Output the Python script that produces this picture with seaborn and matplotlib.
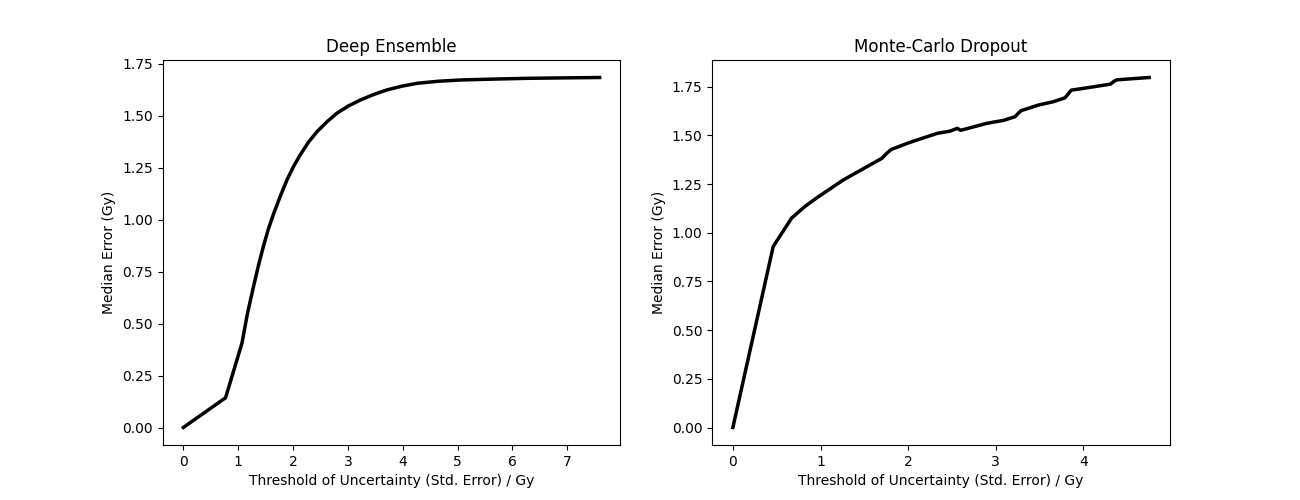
import matplotlib
matplotlib.use("Agg")
import matplotlib.pyplot as plt
import seaborn as sns
import numpy as np

# Deep Ensemble curve (threshold, median error)
de_threshold = [0.0, 0.77, 1.07, 1.17, 1.28, 1.37, 1.46, 1.55, 1.65, 1.77, 1.89, 2.01, 2.13,
                2.28, 2.44, 2.62, 2.80, 3.01, 3.23, 3.47, 3.71, 3.98, 4.26, 4.65, 5.05,
                5.60, 6.26, 6.90, 7.59]
de_error = [0.0, 0.143, 0.407, 0.55, 0.679, 0.78, 0.872, 0.955, 1.032, 1.115, 1.192, 1.257, 1.312,
            1.373, 1.425, 1.472, 1.513, 1.548, 1.577, 1.603, 1.625, 1.643, 1.657, 1.667, 1.673,
            1.677, 1.681, 1.683, 1.685]

# Monte-Carlo Dropout curve
mc_threshold = [0.0, 0.46, 0.67, 0.82, 0.96, 1.26, 1.70, 1.76, 1.81, 2.02, 2.33, 2.48, 2.56,
                2.60, 2.90, 3.09, 3.22, 3.26, 3.29, 3.49, 3.66, 3.79, 3.83, 3.86, 4.04,
                4.31, 4.35, 4.38, 4.75]
mc_error = [0.0, 0.929, 1.075, 1.134, 1.18, 1.271, 1.382, 1.41, 1.428, 1.464, 1.51, 1.522, 1.536,
            1.526, 1.562, 1.577, 1.596, 1.615, 1.627, 1.656, 1.673, 1.693, 1.715, 1.732, 1.744,
            1.763, 1.778, 1.785, 1.797]

fig, axes = plt.subplots(1, 2, figsize=(13, 5), dpi=100)

sns.lineplot(x=np.array(de_threshold), y=np.array(de_error), ax=axes[0],
             color="black", linewidth=2.5, sort=False)
axes[0].set_title("Deep Ensemble")

sns.lineplot(x=np.array(mc_threshold), y=np.array(mc_error), ax=axes[1],
             color="black", linewidth=2.5, sort=False)
axes[1].set_title("Monte-Carlo Dropout")

for ax in axes:
    ax.set_xlabel("Threshold of Uncertainty (Std. Error) / Gy")
    ax.set_ylabel("Median Error (Gy)")

plt.savefig("out.png", dpi=100)
plt.close()
